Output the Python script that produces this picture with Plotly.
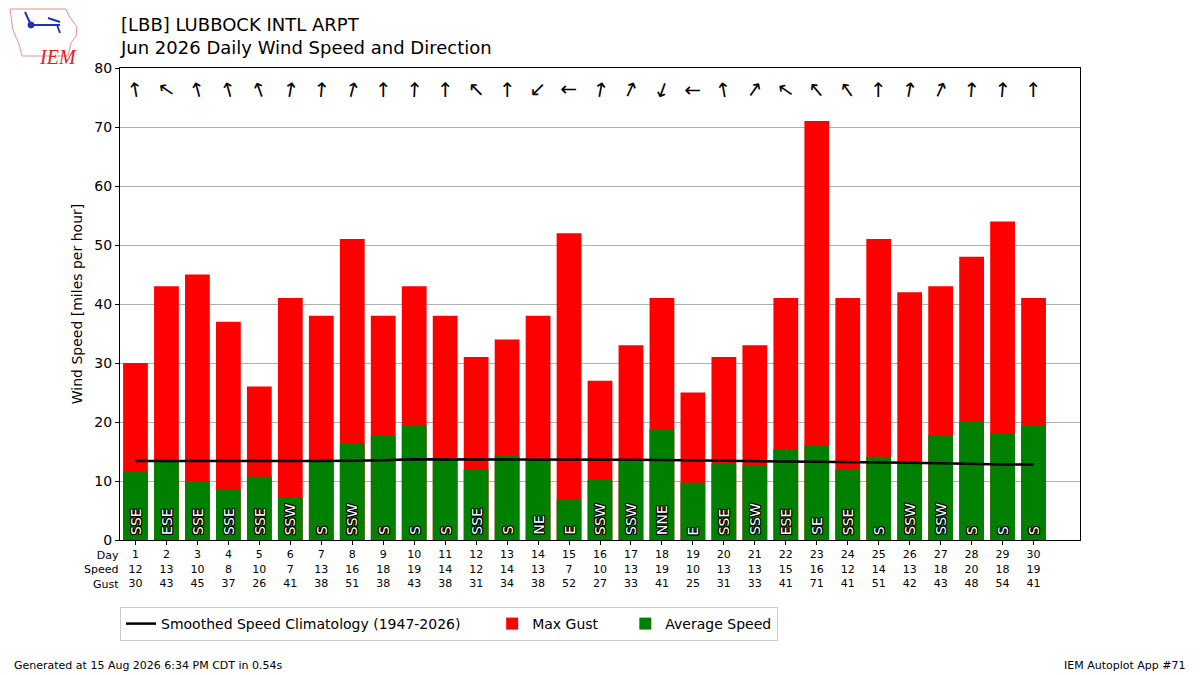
import plotly.graph_objects as go

# daily values
days = list(range(1, 31))
avg_speed = [11.7, 13.4, 10.0, 8.6, 10.7, 7.3, 13.2, 16.4, 17.8, 19.5,
             13.7, 12.0, 14.4, 13.6, 6.9, 10.2, 13.6, 18.8, 9.7, 12.9,
             12.7, 15.4, 16.1, 12.0, 14.1, 12.9, 17.8, 20.0, 18.1, 19.5]
speed_lbl = [12, 13, 10, 8, 10, 7, 13, 16, 18, 19, 14, 12, 14, 13, 7,
             10, 13, 19, 10, 13, 13, 15, 16, 12, 14, 13, 18, 20, 18, 19]
max_gust = [30, 43, 45, 37, 26, 41, 38, 51, 38, 43, 38, 31, 34, 38, 52,
            27, 33, 41, 25, 31, 33, 41, 71, 41, 51, 42, 43, 48, 54, 41]
dir_txt = ['SSE', 'ESE', 'SSE', 'SSE', 'SSE', 'SSW', 'S', 'SSW', 'S', 'S',
           'S', 'SSE', 'S', 'NE', 'E', 'SSW', 'SSW', 'NNE', 'E', 'SSE',
           'SSW', 'ESE', 'SE', 'SSE', 'S', 'SSW', 'SSW', 'S', 'S', 'S']
dir_deg = [170, 125, 165, 165, 160, 190, 185, 195, 180, 183,
           180, 135, 180, 45, 90, 190, 205, 20, 90, 170,
           215, 125, 140, 145, 180, 190, 205, 185, 185, 180]
clim = [13.4, 13.4, 13.3, 13.35, 13.4, 13.4, 13.4, 13.45, 13.5, 13.7,
        13.7, 13.7, 13.7, 13.7, 13.7, 13.65, 13.6, 13.55, 13.5, 13.5,
        13.45, 13.4, 13.35, 13.3, 13.2, 13.1, 13.0, 12.85, 12.8, 12.8]

FONT = "DejaVu Sans"
W, H = 1200, 675
L, R, T, B = 120, 1080, 68, 540
NB = "\u00a0"  # pads legend entries apart like the original


def px(x, y):
    # pixel -> paper coords
    return (x - L) / (R - L), (B - y) / (B - T)


fig = go.Figure()

fig.add_trace(go.Bar(x=days, y=max_gust, name="Max Gust" + NB * 5, marker_color="#ff0000",
                     marker_line_width=0, width=0.8, legendrank=2))
fig.add_trace(go.Bar(x=days, y=avg_speed, name="Average Speed", marker_color="#008000",
                     marker_line_width=0, width=0.8, legendrank=3))
fig.add_trace(go.Scatter(x=days, y=clim, mode="lines",
                         name="Smoothed Speed Climatology (1947-2026)" + NB * 6,
                         line=dict(color="black", width=2.5), legendrank=1))

outline = ("-1px -1px 0 #000, 1px -1px 0 #000, -1px 1px 0 #000, 1px 1px 0 #000, "
           "0 1px 0 #000, 0 -1px 0 #000, 1px 0 0 #000, -1px 0 0 #000")
annotations = []
for d, txt, deg in zip(days, dir_txt, dir_deg):
    # direction label at the bottom of each bar
    annotations.append(dict(x=d, y=0, text=txt, showarrow=False, textangle=-90,
                            yanchor="bottom", yshift=3,
                            font=dict(family=FONT, size=14, color="white", shadow=outline)))
    # arrow pointing where the wind blows to
    toward = (deg + 180) % 360
    if toward > 180:
        toward -= 360
    annotations.append(dict(x=d, y=76.3, text="↑", showarrow=False, textangle=toward,
                            font=dict(family=FONT, size=20, color="black")))

ticktext = [f"{d}<br>{s}<br>{g}" for d, s, g in zip(days, speed_lbl, max_gust)]

# row labels under the axis
x0, y0 = px(121, 547)
annotations.append(dict(x=x0, y=y0, xref="paper", yref="paper", text="Day<br>Speed<br>Gust",
                        showarrow=False, xanchor="right", yanchor="top", align="right",
                        font=dict(family=FONT, size=11, color="black")))

# footer
fx, fy = px(12, 665)
annotations.append(dict(x=fx, y=fy, xref="paper", yref="paper", showarrow=False,
                        text="Generated at 15 Aug 2026 6:34 PM CDT in 0.54s",
                        xanchor="left", yanchor="middle", font=dict(family=FONT, size=11, color="black")))
fx, fy = px(1188, 665)
annotations.append(dict(x=fx, y=fy, xref="paper", yref="paper", showarrow=False,
                        text="IEM Autoplot App #71",
                        xanchor="right", yanchor="middle", font=dict(family=FONT, size=11, color="black")))

# titles
tx, ty = px(118, 12)
annotations.append(dict(x=tx, y=ty, xref="paper", yref="paper", showarrow=False,
                        text="[LBB] LUBBOCK INTL ARPT<br>Jun 2026 Daily Wind Speed and Direction",
                        xanchor="left", yanchor="top", align="left",
                        font=dict(family=FONT, size=18, color="black")))

# rough IEM logo
lx, ly = px(37, 44)
annotations.append(dict(x=lx, y=ly, xref="paper", yref="paper", showarrow=False, text="<i>IEM</i>",
                        font=dict(family="Liberation Serif", size=20, color="#e0202a")))
iowa = [(10, 9), (66, 9), (69, 16), (77, 27), (76, 36), (71, 43), (68, 56), (22, 56),
        (19, 44), (13, 30), (10, 9)]
path = "M " + " L ".join(f"{px(a, b)[0]:.4f},{px(a, b)[1]:.4f}" for a, b in iowa) + " Z"
shapes = [dict(type="path", xref="paper", yref="paper", path=path,
               line=dict(color="#e89090", width=1))]
blue = "#2030c0"
for (a, b), (c, e) in [((31, 25), (60, 25)), ((48, 18), (60, 22)), ((57, 25), (60, 33)),
                       ((25, 12), (31, 25))]:
    p0, p1 = px(a, b), px(c, e)
    shapes.append(dict(type="line", xref="paper", yref="paper", x0=p0[0], y0=p0[1],
                       x1=p1[0], y1=p1[1], line=dict(color=blue, width=2)))
c0, c1 = px(28, 22), px(34, 28)
shapes.append(dict(type="circle", xref="paper", yref="paper", x0=c0[0], y0=c0[1],
                   x1=c1[0], y1=c1[1], fillcolor=blue, line=dict(color=blue, width=1)))

fig.update_layout(
    width=W, height=H,
    margin=dict(l=L, r=W - R, t=T, b=H - B),
    paper_bgcolor="white", plot_bgcolor="white",
    barmode="overlay",
    font=dict(family=FONT, size=13, color="black"),
    annotations=annotations,
    shapes=shapes,
    legend=dict(orientation="h", x=0, y=px(0, 607)[1], xanchor="left", yanchor="top",
                bordercolor="#cccccc", borderwidth=1, font=dict(family=FONT, size=14),
                traceorder="normal"),
    bargap=0.2,
)
fig.update_xaxes(range=[0.5, 31.5], tickvals=days, ticktext=ticktext, ticks="outside",
                 ticklen=4, tickcolor="black", showline=True, linecolor="black", mirror=True,
                 showgrid=False, tickfont=dict(family=FONT, size=11), zeroline=False)
fig.update_yaxes(range=[0, 80], dtick=10, ticks="outside", ticklen=4, tickcolor="black",
                 showline=True, linecolor="black", mirror=True, showgrid=True,
                 gridcolor="#b0b0b0", gridwidth=1, zeroline=False,
                 title=dict(text="Wind Speed [miles per hour]", font=dict(family=FONT, size=14),
                            standoff=8),
                 tickfont=dict(family=FONT, size=14))

# drop the default page margin so the figure sits at the window's corner
fig.write_html("out.html", config={"displayModeBar": False},
               post_script="document.body.style.margin='0px';")
